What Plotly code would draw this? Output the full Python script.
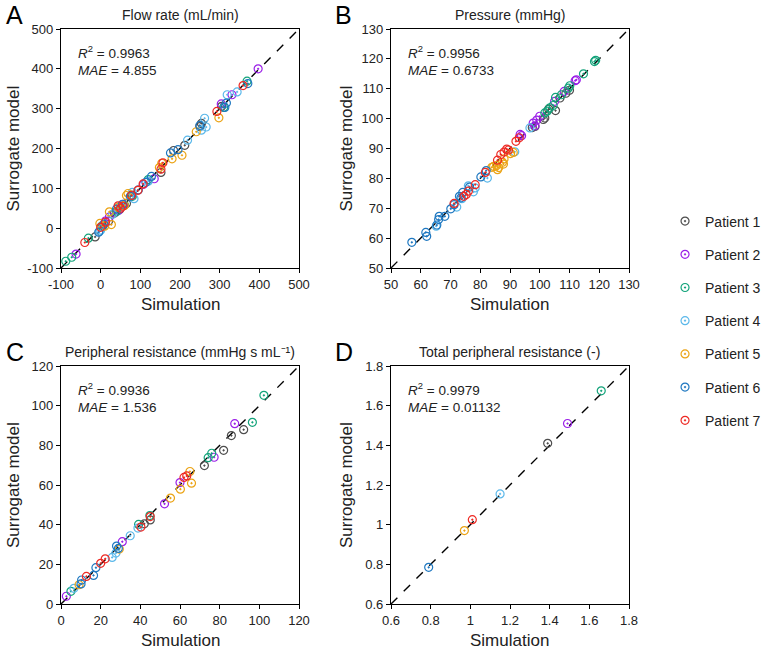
import plotly.graph_objects as go

patients = ["Patient 1", "Patient 2", "Patient 3", "Patient 4", "Patient 5", "Patient 6", "Patient 7"]
colors = ["#4d4d4d", "#9b1fe8", "#12a37a", "#5bb8ea", "#eba314", "#1f78c1", "#ee2a24"]

# flow rate (mL/min): patient index, simulation, surrogate
flow_pid = [0]*13 + [1]*10 + [2]*10 + [3]*13 + [4]*14 + [5]*14 + [6]*13
flow_sim = [-14, 5, 35, 48, 78, 152, 184, 212, 254, 250, 305, 65, 20,
            -62, 12, 22, 44, 135, 304, 331, 397, 58, 108,
            -88, -73, -31, 2, 40, 60, 120, 369, 310, 80,
            -3, 0, 30, 84, 80, 219, 254, 262, 266, 319, 344, 120, 50,
            22, 27, -2, 10, 45, 69, 65, 154, 148, 180, 205, 241, 298, 60,
            -5, 8, 40, 55, 75, 114, 128, 176, 195, 250, 313, 317, 371, 95,
            -40, 0, 12, 44, 50, 56, 94, 107, 157, 152, 293, 359, 78]
flow_sur = [-22, 5, 38, 47, 83, 140, 195, 208, 263, 255, 306, 62, 18,
            -65, 18, 28, 44, 124, 312, 335, 400, 60, 110,
            -83, -73, -25, 5, 42, 58, 122, 369, 303, 80,
            -8, -5, 35, 74, 90, 221, 246, 276, 254, 335, 342, 118, 55,
            41, 9, 12, 5, 52, 87, 82, 163, 152, 174, 183, 242, 277, 57,
            -10, 10, 48, 60, 80, 115, 130, 189, 197, 258, 303, 314, 363, 96,
            -36, 2, 15, 56, 50, 55, 95, 111, 164, 148, 293, 358, 82]

# pressure (mmHg)
pres_pid = [0]*9 + [1]*10 + [2]*11 + [3]*9 + [4]*10 + [5]*15 + [6]*13
pres_sim = [98.4, 101.2, 101.7, 105.3, 106.8, 108.8, 97.5, 103, 110,
            93.4, 93.9, 97.8, 98.4, 100, 105, 108.2, 111.9, 99, 112.3,
            101.7, 103.4, 104.5, 105.3, 107.3, 109.6, 110.1, 114.7, 118.4, 118.8, 102.5,
            65.2, 72.1, 73.8, 77.7, 78.3, 82.4, 91.6, 96.7, 76,
            83.9, 85.5, 85.8, 87.5, 88, 90.2, 91.1, 84.5, 86.2, 87.8,
            57, 61.7, 62, 65.4, 66.2, 66, 68.1, 70.1, 71.2, 73, 74.1, 76.4, 80.2, 82, 73.5,
            71.2, 75.3, 76, 78.3, 81.7, 85.8, 86.9, 88, 88.9, 92, 93.1, 74.5, 89.5]
pres_sur = [97.4, 99.7, 100.2, 102.7, 106.9, 108.5, 97.0, 103.2, 109.5,
            94.7, 94.3, 98.5, 97.6, 100.8, 105.8, 109.1, 112.7, 99.5, 113,
            101.9, 103.6, 104.4, 107.1, 108, 110.2, 111, 115, 119.1, 119.5, 102.5,
            64, 70.4, 73.2, 75.5, 76.8, 80.1, 88.9, 96.9, 77.5,
            83.7, 84.3, 82.9, 85.4, 86.5, 88.3, 88.7, 84, 83.6, 84.8,
            58.6, 61.9, 60.6, 64.4, 67.3, 66.2, 67.3, 69.8, 71.2, 74, 75.3, 77.1, 80.5, 82.6, 73.5,
            71.6, 74.6, 75.7, 77.9, 82, 86.1, 88, 88.8, 89.8, 92.4, 93.6, 74, 89.5]

# peripheral resistance (mmHg s/mL)
pr_pid = [0]*6 + [1]*6 + [2]*7 + [3]*5 + [4]*6 + [5]*6 + [6]*7
pr_sim = [92.1, 85.9, 82, 72.3, 45, 42,
          87.6, 77.2, 60, 52.2, 30.9, 2.7,
          102.3, 96.5, 76, 74.2, 44.8, 39.1, 5,
          38.8, 34.9, 27.7, 25.8, 6.5,
          65, 65.8, 60.2, 55.2, 29.4, 9.1,
          28, 28.9, 17.6, 16.4, 10.4, 10.1,
          63.4, 62, 45, 40.3, 22.3, 20, 12.8]
pr_sur = [87.9, 84.9, 77.5, 69.8, 42.4, 40.4,
          90.9, 74, 61.2, 50.5, 31.4, 3.9,
          105.2, 91.6, 76, 73.8, 44.6, 40.1, 6.4,
          38.3, 34.4, 25.7, 23.5, 7.9,
          66.8, 60.9, 57.9, 53.4, 27.7, 9.7,
          29.2, 28, 18.3, 14.4, 12.1, 10.1,
          64.6, 63.8, 44.1, 38.8, 22.8, 20.5, 13.9]

# total peripheral resistance (-)
tpr_pid = [0, 1, 2, 3, 4, 5, 6]
tpr_sim = [1.39, 1.49, 1.66, 1.15, 0.97, 0.79, 1.01]
tpr_sur = [1.41, 1.51, 1.675, 1.155, 0.97, 0.785, 1.025]

titles = ["Flow rate (mL/min)", "Pressure (mmHg)",
          "Peripheral resistance (mmHg s mL\u207b\u00b9)", "Total peripheral resistance (-)"]
letters = ["A", "B", "C", "D"]
stats = [("0.9963", "4.855"), ("0.9956", "0.6733"), ("0.9936", "1.536"), ("0.9979", "0.01132")]
ticks = [[-100, 0, 100, 200, 300, 400, 500],
         [50, 60, 70, 80, 90, 100, 110, 120, 130],
         [0, 20, 40, 60, 80, 100, 120],
         [0.6, 0.8, 1.0, 1.2, 1.4, 1.6, 1.8]]
panels = [(flow_pid, flow_sim, flow_sur), (pres_pid, pres_sim, pres_sur),
          (pr_pid, pr_sim, pr_sur), (tpr_pid, tpr_sim, tpr_sur)]

W, H = 763, 648
xdoms = [(61 / W, 299 / W), (391 / W, 629 / W)]
ydoms = [(1 - 268 / H, 1 - 29 / H), (1 - 604 / H, 1 - 366 / H)]
FONT = "Liberation Sans, Arial, sans-serif"
TXT = "#222"

fig = go.Figure()
layout = {}
annotations = []
for k in range(4):
    r, c = divmod(k, 2)
    xa = "x" if k == 0 else f"x{k+1}"
    ya = "y" if k == 0 else f"y{k+1}"
    tv = ticks[k]
    lo, hi = tv[0], tv[-1]
    tt = [f"{v:g}" for v in tv]
    pid, sim, sur = panels[k]

    fig.add_trace(go.Scatter(x=[lo, hi], y=[lo, hi], mode="lines", xaxis=xa, yaxis=ya,
                             line=dict(color="black", width=1.4, dash="dash"),
                             showlegend=False, hoverinfo="skip"))
    for p in range(7):
        xs = [s for i, s in zip(pid, sim) if i == p]
        ys = [s for i, s in zip(pid, sur) if i == p]
        fig.add_trace(go.Scatter(
            x=xs, y=ys, mode="markers", xaxis=xa, yaxis=ya, name=patients[p],
            legendgroup=patients[p], showlegend=(k == 3),
            marker=dict(symbol="circle-open-dot", size=8, color=colors[p],
                        line=dict(width=1.2, color=colors[p]))))

    axis_common = dict(range=[lo, hi], tickvals=tv, ticktext=tt, showline=True, linecolor="black",
                       linewidth=1.2, mirror=True, ticks="outside", ticklen=4, tickwidth=1.2,
                       tickcolor="black", showgrid=False, zeroline=False, automargin=False,
                       tickfont=dict(size=13, color=TXT, family=FONT))
    layout["xaxis" if k == 0 else f"xaxis{k+1}"] = dict(axis_common, domain=xdoms[c], anchor=ya)
    layout["yaxis" if k == 0 else f"yaxis{k+1}"] = dict(axis_common, domain=ydoms[r], anchor=xa)

    xmid = (xdoms[c][0] + xdoms[c][1]) / 2
    ymid = (ydoms[r][0] + ydoms[r][1]) / 2
    # axis titles
    annotations.append(dict(text="Simulation", x=xmid, y=ydoms[r][0] - 36 / H, xref="paper", yref="paper",
                            xanchor="center", yanchor="middle", showarrow=False,
                            font=dict(size=17, color=TXT, family=FONT)))
    annotations.append(dict(text="Surrogate model", x=(13 if c == 0 else 346) / W, y=ymid,
                            xref="paper", yref="paper", xanchor="center", yanchor="middle",
                            textangle=-90, showarrow=False, font=dict(size=17, color=TXT, family=FONT)))
    # panel title and letter
    annotations.append(dict(text=titles[k], x=xmid, y=ydoms[r][1] + 4 / H, xref="paper", yref="paper",
                            xanchor="center", yanchor="bottom", showarrow=False,
                            font=dict(size=14, color=TXT, family=FONT)))
    annotations.append(dict(text=letters[k], x=(4 if c == 0 else 333) / W, y=ydoms[r][1] + 30 / H,
                            xref="paper", yref="paper", xanchor="left", yanchor="top", showarrow=False,
                            font=dict(size=25, color="black", family=FONT)))
    annotations.append(dict(text=f"<i>R</i><sup>2</sup> = {stats[k][0]}<br><i>MAE</i> = {stats[k][1]}",
                            x=xdoms[c][0] + 15 / W, y=ydoms[r][1] - 12 / H, xref="paper", yref="paper",
                            xanchor="left", yanchor="top", align="left", showarrow=False,
                            font=dict(size=13.5, color=TXT, family=FONT)))

fig.update_layout(
    width=W, height=H, margin=dict(l=0, r=0, t=0, b=0, autoexpand=False),
    plot_bgcolor="white", paper_bgcolor="white",
    font=dict(family=FONT, color=TXT),
    annotations=annotations,
    legend=dict(x=0.8716, y=1 - 321 / H, xanchor="left", yanchor="middle",
                font=dict(size=14, color=TXT, family=FONT), tracegroupgap=12,
                itemwidth=30, bgcolor="rgba(0,0,0,0)"),
    **layout,
)

fig.write_html("out.html", config={"displayModeBar": False},
               post_script="document.body.style.margin='0';document.body.style.overflow='hidden';")
